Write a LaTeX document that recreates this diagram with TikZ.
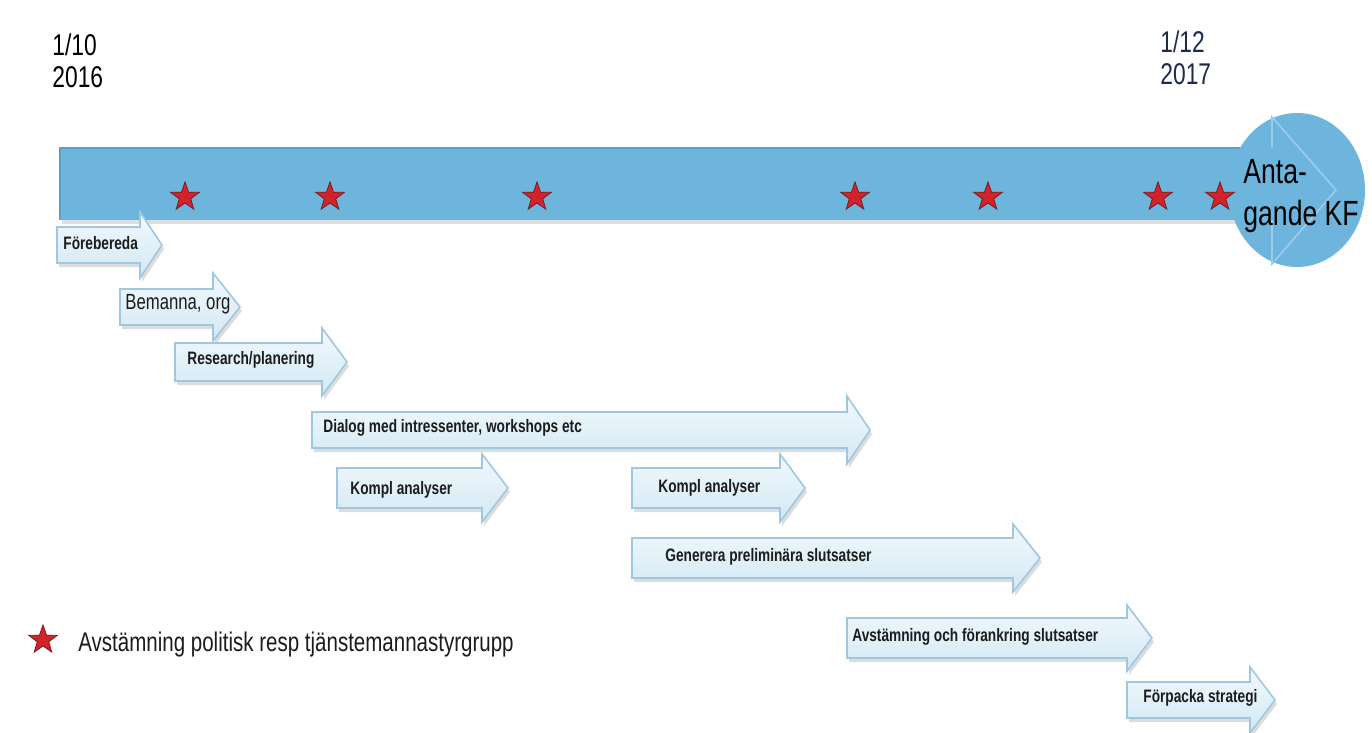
\documentclass[tikz,border=0pt]{standalone}
\usepackage{fontspec}
\setmainfont{Liberation Sans}[FakeStretch=0.76]
\usetikzlibrary{shapes.geometric}
\definecolor{barblue}{HTML}{6EB5DD}
\definecolor{bartop}{HTML}{5A9FC9}
\definecolor{headline}{HTML}{9ACDEB}
\definecolor{starred}{HTML}{D2232A}
\definecolor{staredge}{HTML}{7B1B1E}
\definecolor{arrfillA}{HTML}{F2F9FD}
\definecolor{arrfillB}{HTML}{D2E8F4}
\definecolor{arredge}{HTML}{9FC8E0}
\definecolor{navy}{HTML}{1E2A4C}
\definecolor{txt}{HTML}{1C1C1C}
\tikzset{
  mstar/.style={star, star points=5, star point ratio=2.5, fill=starred, draw=staredge,
    line width=0.4pt, minimum size=15pt, inner sep=0pt},
  arrowbox/.style={top color=arrfillA, bottom color=arrfillB, draw=arredge, line width=0.8pt},
  arrowshadow/.style={fill=black!30, opacity=0.45},
  steptext/.style={anchor=west, inner sep=0pt, font=\fontsize{9}{10}\selectfont\bfseries, text=txt},
  datetext/.style={anchor=west, inner sep=0pt, align=left, font=\fontsize{15}{16}\selectfont},
}
\newcommand\blockarrow[6]{% left, base, tip, centre y, body half, head half
  \fill[arrowshadow, shift={(2,4)}] (#1,{#4-#5}) -- (#2,{#4-#5}) -- (#2,{#4-#6}) -- (#3,#4)
     -- (#2,{#4+#6}) -- (#2,{#4+#5}) -- (#1,{#4+#5}) -- cycle;
  \draw[arrowbox] (#1,{#4-#5}) -- (#2,{#4-#5}) -- (#2,{#4-#6}) -- (#3,#4)
     -- (#2,{#4+#6}) -- (#2,{#4+#5}) -- (#1,{#4+#5}) -- cycle;
}
\begin{document}
\begin{tikzpicture}[x=0.5pt, y=-0.5pt]
\useasboundingbox (0,0) rectangle (1372,733);
% dates
\node[datetext, text=black] (d1) at (52,61) {1/10\\2016};
\node[datetext, text=navy] (d2) at (1160,58) {1/12\\2017};
% main bar
\fill[black!25, opacity=0.5] (62,152) rectangle (1274,224);
\fill[barblue] (60,148) rectangle (1272,220);
\draw[bartop, line width=1pt] (60,220) -- (60,148) -- (1240,148);
\fill[barblue] (1272,117) -- (1336,190) -- (1272,264) -- cycle;
\fill[barblue] (1297,190) ellipse [x radius=68, y radius=77];
\draw[headline, line width=0.8pt] (1272,148) -- (1272,117) -- (1336,190) -- (1272,264) -- (1272,220);
% stars
\foreach \x [count=\i] in {185,330,537,855,988,1158,1220}
  \node[mstar] (s\i) at (\x,197) {};
\node[anchor=west, inner sep=0pt, align=left, text=black,
  font=\fontsize{17.5}{21}\selectfont] (kf) at (1243,196) {Anta-\\gande KF};
% step arrows
\blockarrow{57}{140}{162}{245}{18}{33}
\node[steptext] (t1) at (63,243) {Förebereda};
\blockarrow{120}{213}{240}{307}{18}{34}
\node[steptext, font=\fontsize{11}{12}\selectfont] (t2) at (125,304) {Bemanna, org};
\blockarrow{175}{322}{347}{362}{19}{34}
\node[steptext] (t3) at (187,360) {Research/planering};
\blockarrow{312}{847}{870}{430}{18}{34}
\node[steptext] (t4) at (323,428) {Dialog med intressenter, workshops etc};
\blockarrow{337}{482}{508}{488}{20}{34}
\node[steptext] (t5) at (350,490) {Kompl analyser};
\blockarrow{632}{780}{805}{488}{20}{34}
\node[steptext] (t6) at (658,488) {Kompl analyser};
\blockarrow{632}{1013}{1040}{558}{20}{34}
\node[steptext] (t7) at (665,557) {Generera preliminära slutsatser};
\blockarrow{847}{1127}{1152}{638}{20}{33}
\node[steptext] (t8) at (852,637) {Avstämning och förankring slutsatser};
\blockarrow{1127}{1250}{1275}{700}{18}{33}
\node[steptext] (t9) at (1143,698) {Förpacka strategi};
% legend
\node[mstar] (ls) at (43,640) {};
\node[anchor=west, inner sep=0pt, text=txt, font=\fontsize{13.5}{15}\selectfont]
  (lt) at (78,645) {Avstämning politisk resp tjänstemannastyrgrupp};
\end{tikzpicture}
\end{document}
